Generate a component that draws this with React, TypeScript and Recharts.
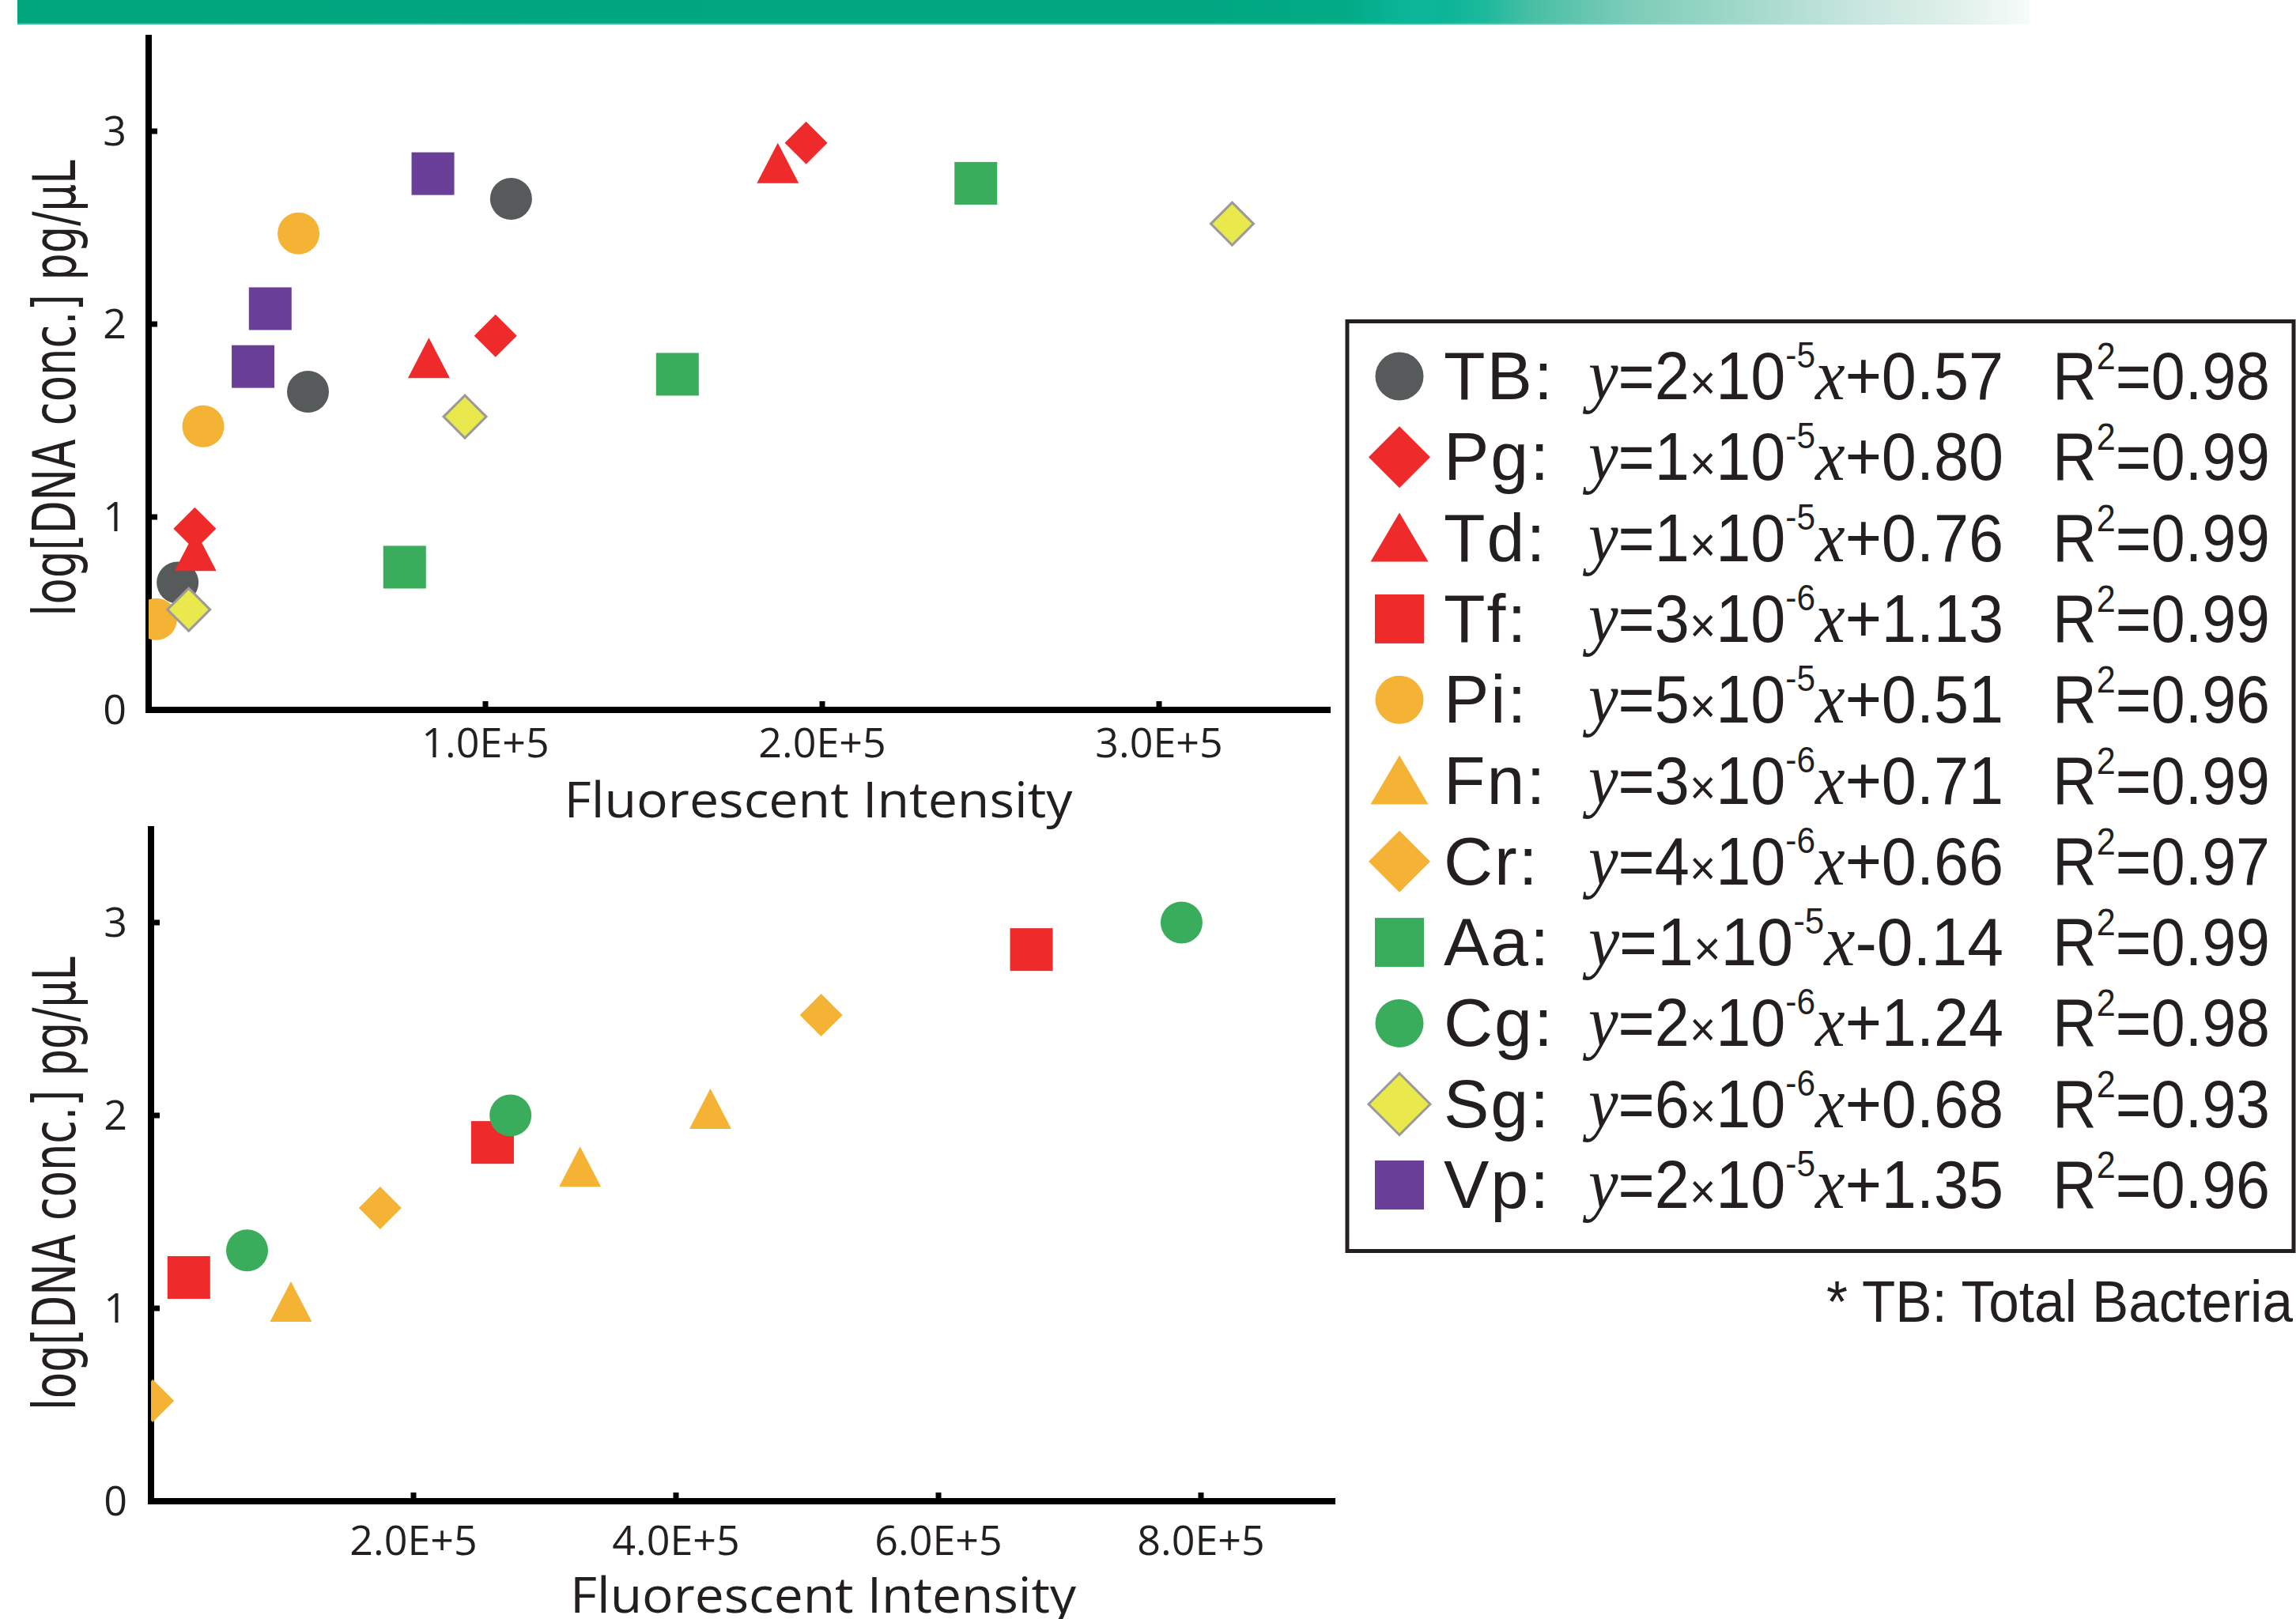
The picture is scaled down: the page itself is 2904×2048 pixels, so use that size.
import React from "react";
import { Scatter, ScatterChart, XAxis, YAxis } from "recharts";

type Pt = [number, number];
type Kind = "circle" | "square" | "diamond" | "triangle";

// upper panel (x: fluorescent intensity, y: log conc.)
const TB: Pt[] = [[8600, 0.66], [47300, 1.65], [107600, 2.65]];
const PG: Pt[] = [[13700, 0.94], [103000, 1.94], [195200, 2.94]];
const TD: Pt[] = [[13900, 0.79], [83200, 1.79], [186800, 2.8]];
const PI: Pt[] = [[2200, 0.47], [16200, 1.47], [44500, 2.47]];
const AA: Pt[] = [[76000, 0.74], [157000, 1.74], [245600, 2.73]];
const SG: Pt[] = [[11900, 0.52], [93900, 1.52], [321700, 2.52]];
const VP: Pt[] = [[31000, 1.78], [36100, 2.08], [84400, 2.78]];

// lower panel
const TF: Pt[] = [[28800, 1.16], [260200, 1.86], [670800, 2.86]];
const FN: Pt[] = [[106600, 1.0], [326900, 1.7], [426200, 2.0]];
const CR: Pt[] = [[1300, 0.52], [174600, 1.52], [510600, 2.52]];
const CG: Pt[] = [[73200, 1.3], [273900, 2.0], [785200, 3.0]];

const Y_TICKS = [0, 1, 2, 3];
const TOP_X_TICKS = [100000, 200000, 300000];
const TOP_X_LABELS = ["1.0E+5", "2.0E+5", "3.0E+5"];
const BOTTOM_X_TICKS = [200000, 400000, 600000, 800000];
const BOTTOM_X_LABELS = ["2.0E+5", "4.0E+5", "6.0E+5", "8.0E+5"];

const LEGEND_NAMES = ["TB", "Pg", "Td", "Tf", "Pi", "Fn", "Cr", "Aa", "Cg", "Sg", "Vp"];
const LEGEND_SLOPES = ["2", "1", "1", "3", "5", "3", "4", "1", "2", "6", "2"];
const LEGEND_EXPONENTS = ["-5", "-5", "-5", "-6", "-5", "-6", "-6", "-5", "-6", "-6", "-5"];
const LEGEND_INTERCEPTS = ["+0.57", "+0.80", "+0.76", "+1.13", "+0.51", "+0.71", "+0.66", "-0.14", "+1.24", "+0.68", "+1.35"];
const LEGEND_R2 = ["0.98", "0.99", "0.99", "0.99", "0.96", "0.99", "0.97", "0.99", "0.98", "0.93", "0.96"];

const GRAY = "#575a5b";
const RED = "#ee2a2a";
const ORANGE = "#f5b335";
const GREEN = "#39ad5b";
const YELLOW = "#e9e84d";
const PURPLE = "#6a3f98";
const INK = "#231f20";

const STYLES: Record<string, { kind: Kind; fill: string; stroke?: string }> = {
  TB: { kind: "circle", fill: GRAY },
  Pg: { kind: "diamond", fill: RED },
  Td: { kind: "triangle", fill: RED },
  Tf: { kind: "square", fill: RED },
  Pi: { kind: "circle", fill: ORANGE },
  Fn: { kind: "triangle", fill: ORANGE },
  Cr: { kind: "diamond", fill: ORANGE },
  Aa: { kind: "square", fill: GREEN },
  Cg: { kind: "circle", fill: GREEN },
  Sg: { kind: "diamond", fill: YELLOW, stroke: "#9a9a9a" },
  Vp: { kind: "square", fill: PURPLE },
};

const TOP_SERIES: { name: string; data: Pt[] }[] = [
  { name: "Aa", data: AA },
  { name: "Vp", data: VP },
  { name: "Pi", data: PI },
  { name: "TB", data: TB },
  { name: "Td", data: TD },
  { name: "Pg", data: PG },
  { name: "Sg", data: SG },
];
const BOTTOM_SERIES: { name: string; data: Pt[] }[] = [
  { name: "Cr", data: CR },
  { name: "Fn", data: FN },
  { name: "Tf", data: TF },
  { name: "Cg", data: CG },
];

const SANS = "'Liberation Sans', Arial, sans-serif";
const TICK_FONT = "'Open Sans', 'Noto Sans', sans-serif";
const TITLE_FONT = "'DejaVu Sans', sans-serif";
const SERIF = "'Liberation Serif', 'DejaVu Serif', serif";

const BAR_GRADIENT =
  "linear-gradient(90deg, #00a57e 0%, #00a781 58%, #02aa86 66%, #0bb698 69%, #0db597 71%, #1eb99d 73%, #45bea3 75%, #7bccb8 80%, #a3d9ca 86%, #c6e5dc 91%, #e4f2ee 97%, #f7fbfa 100%)";
const BAR_EDGE =
  "linear-gradient(90deg, #3fbb9c 0%, #40bd9f 70%, #8fd5c4 82%, #e0f2ec 97%, #fafdfc 100%)";

function Glyph({ kind, cx, cy, r, tri, fill, stroke }: { kind: Kind; cx: number; cy: number; r: number; tri: [number, number, number]; fill: string; stroke?: string }) {
  const paint = { fill, stroke: stroke ?? "none", strokeWidth: stroke ? 3 : 0 };
  if (kind === "circle") return <circle cx={cx} cy={cy} r={r} {...paint} />;
  if (kind === "square") return <rect x={cx - r} y={cy - r} width={2 * r} height={2 * r} {...paint} />;
  if (kind === "diamond") return <path d={`M${cx},${cy - r}L${cx + r},${cy}L${cx},${cy + r}L${cx - r},${cy}Z`} {...paint} />;
  const [hw, up, down] = tri;
  return <path d={`M${cx},${cy - up}L${cx + hw},${cy + down}L${cx - hw},${cy + down}Z`} {...paint} />;
}

function chartRadius(kind: Kind) {
  if (kind === "circle") return 26.5;
  return 27;
}

function Panel({ series, xMax, xTicks, xLabels, height, top, right, yAxisWidth, xAxisHeight, xTickMargin, yTickMargin }: {
  series: { name: string; data: Pt[] }[];
  xMax: number;
  xTicks: number[];
  xLabels: string[];
  height: number;
  top: number;
  right: number;
  yAxisWidth: number;
  xAxisHeight: number;
  xTickMargin: number;
  yTickMargin: number;
}) {
  const tickStyle = { fill: INK, fontSize: 52, fontFamily: TICK_FONT };
  return (
    <ScatterChart width={1760} height={height} margin={{ top, right, bottom: 0, left: 0 }}>
      <XAxis
        type="number"
        dataKey="x"
        domain={[0, xMax]}
        ticks={xTicks}
        interval={0}
        allowDataOverflow
        tickFormatter={(v: number) => xLabels[xTicks.indexOf(v)] ?? ""}
        height={xAxisHeight}
        axisLine={{ stroke: "#000", strokeWidth: 8, strokeLinecap: "square" }}
        tickLine={{ stroke: "#000", strokeWidth: 7 }}
        tickSize={-11}
        tickMargin={xTickMargin}
        tick={tickStyle}
      />
      <YAxis
        type="number"
        dataKey="y"
        domain={[0, 3.5]}
        ticks={Y_TICKS}
        interval={0}
        allowDataOverflow
        width={yAxisWidth}
        axisLine={{ stroke: "#000", strokeWidth: 8 }}
        tickLine={{ stroke: "#000", strokeWidth: 7 }}
        tickSize={-11}
        tickMargin={yTickMargin}
        tick={tickStyle}
      />
      {series.map((s) => {
        const st = STYLES[s.name];
        return (
          <Scatter
            key={s.name}
            name={s.name}
            data={s.data.map(([x, y]) => ({ x, y }))}
            isAnimationActive={false}
            shape={(p: any) => (
              <Glyph kind={st.kind} cx={p.cx} cy={p.cy} r={chartRadius(st.kind)} tri={[26.5, 34, 17]} fill={st.fill} stroke={st.stroke} />
            )}
          />
        );
      })}
    </ScatterChart>
  );
}

function LegendRow({ index }: { index: number }) {
  const name = LEGEND_NAMES[index];
  const st = STYLES[name];
  const base = 505 + index * 102.3;
  const cy = base - 29;
  const r = st.kind === "diamond" ? 39 : st.kind === "circle" ? 30.5 : 31;
  return (
    <g>
      <Glyph kind={st.kind} cx={1770} cy={cy} r={r} tri={[36.5, 32, 30]} fill={st.fill} stroke={st.stroke} />
      <text x={1826} y={base} fontSize={86} fontFamily={SANS} fill={INK} letterSpacing={2}>{name}:</text>
      <text x={2009} y={base} fontSize={86} fontFamily={SANS} fill={INK} textLength={525} lengthAdjust="spacingAndGlyphs">
        <tspan fontFamily={SERIF} fontStyle="italic" fontSize={92}>y</tspan>
        <tspan>={LEGEND_SLOPES[index]}</tspan>
        <tspan fontSize={62}>×</tspan>
        <tspan>10</tspan>
        <tspan fontSize={46} dy={-40}>{LEGEND_EXPONENTS[index]}</tspan>
        <tspan dy={40} fontFamily={SERIF} fontStyle="italic" fontSize={92}>x</tspan>
        <tspan>{LEGEND_INTERCEPTS[index]}</tspan>
      </text>
      <text x={2596} y={base} fontSize={86} fontFamily={SANS} fill={INK} textLength={275} lengthAdjust="spacingAndGlyphs">
        R<tspan fontSize={48} dy={-38}>2</tspan>
        <tspan dy={38}>={LEGEND_R2[index]}</tspan>
      </text>
    </g>
  );
}

export default function App() {
  return (
    <div style={{ position: "absolute", left: 0, top: 0, width: 2904, height: 2048, background: "#fff", overflow: "hidden" }}>
      <div style={{ position: "absolute", left: 22, top: 0, width: 2545, height: 29, background: BAR_GRADIENT }} />
      <div style={{ position: "absolute", left: 22, top: 29, width: 2545, height: 2, background: BAR_EDGE }} />

      <div style={{ position: "absolute", left: 0, top: 0 }}>
        <Panel
          series={TOP_SERIES}
          xMax={350000}
          xTicks={TOP_X_TICKS}
          xLabels={TOP_X_LABELS}
          height={1000}
          top={44}
          right={81}
          yAxisWidth={188}
          xAxisHeight={102}
          xTickMargin={34}
          yTickMargin={39}
        />
      </div>
      <div style={{ position: "absolute", left: 0, top: 1000 }}>
        <Panel
          series={BOTTOM_SERIES}
          xMax={900000}
          xTicks={BOTTOM_X_TICKS}
          xLabels={BOTTOM_X_LABELS}
          height={1048}
          top={45}
          right={75}
          yAxisWidth={191}
          xAxisHeight={149}
          xTickMargin={42}
          yTickMargin={41}
        />
      </div>

      <svg width={2904} height={2048} style={{ position: "absolute", left: 0, top: 0, pointerEvents: "none" }}>
        <text transform="translate(95,491) rotate(-90)" textAnchor="middle" fontSize={74} fontFamily={TITLE_FONT} fill={INK} textLength={577} lengthAdjust="spacingAndGlyphs">
          log[DNA conc.] pg/μL
        </text>
        <text transform="translate(95,1497) rotate(-90)" textAnchor="middle" fontSize={74} fontFamily={TITLE_FONT} fill={INK} textLength={574} lengthAdjust="spacingAndGlyphs">
          log[DNA conc.] pg/μL
        </text>
        <text x={1035} y={1034} textAnchor="middle" fontSize={62} fontFamily={TICK_FONT} fill={INK} textLength={643} lengthAdjust="spacingAndGlyphs">
          Fluorescent Intensity
        </text>
        <text x={1041} y={2040} textAnchor="middle" fontSize={62} fontFamily={TICK_FONT} fill={INK} textLength={640} lengthAdjust="spacingAndGlyphs">
          Fluorescent Intensity
        </text>

        <rect x={1704} y={406.5} width={1197} height={1176} fill="none" stroke={INK} strokeWidth={5} />
        {LEGEND_NAMES.map((n, i) => (
          <LegendRow key={n} index={i} />
        ))}
        <text x={2310} y={1672} fontSize={74} fontFamily={SANS} fill={INK} textLength={590} lengthAdjust="spacingAndGlyphs">
          * TB: Total Bacteria
        </text>
      </svg>
    </div>
  );
}
